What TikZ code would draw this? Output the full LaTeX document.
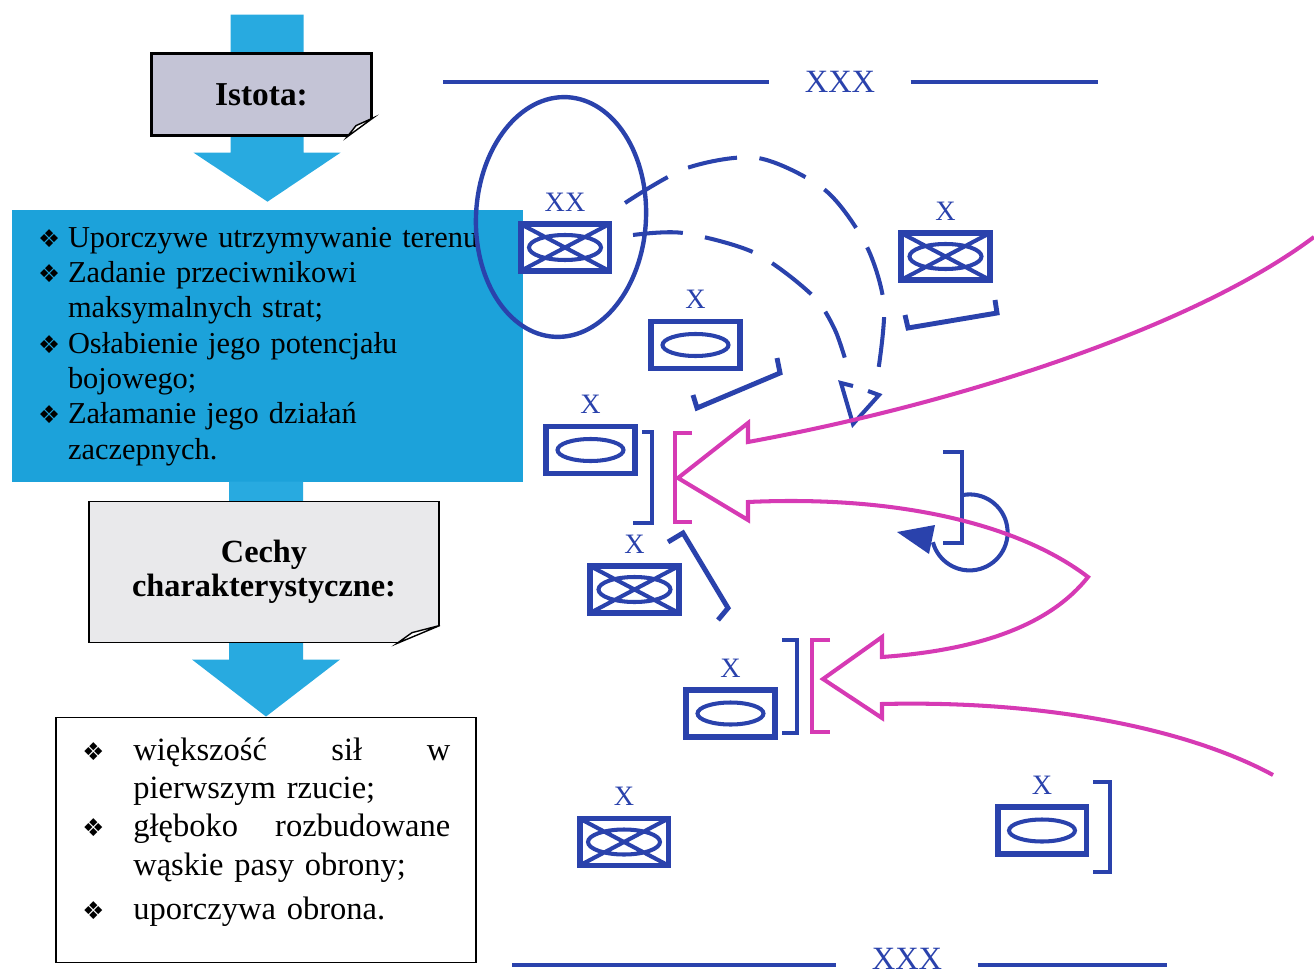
\documentclass[tikz,border=0pt]{standalone}
\usepackage{fontspec}
\setmainfont{Liberation Serif}
\newfontfamily\znakfont{DejaVu Sans}
\usetikzlibrary{calc}

\definecolor{niebieski}{RGB}{42,66,172}
\definecolor{rozowy}{RGB}{214,58,180}
\definecolor{celblue}{RGB}{28,162,218}
\definecolor{strzalka}{RGB}{40,170,224}
\definecolor{istotagray}{RGB}{196,196,214}
\definecolor{cechygray}{RGB}{233,233,235}

% punktor listy
\newcommand{\punkt}[1]{\makebox[#1][l]{\znakfont\fontsize{14}{14}\selectfont ❖}}
% zagiety rog kartki
\newcommand{\zagiecie}[3]{%
  \fill[white] ($(#1.south east)+(-#2,0)$) -- ($(#1.south east)+(-#2,4)$) -- ($(#1.south east)+(4,4)$)
    -- ($(#1.south east)+(4,-#3)$) -- ($(#1.south east)+(0,-#3)$) -- cycle;
  \draw[line width=0.8pt, fill=white] ($(#1.south east)+(-#2,0)$) -- ($(#1.south east)+(-0.65*#2,-0.6*#3)$)
    -- ($(#1.south east)+(0,-#3)$) -- cycle;}

\begin{document}
\begin{tikzpicture}[%
    x = 0.02cm, y = -0.02cm,
    tytul/.style = {draw, align=center},
    jednostka/.style = {draw=niebieski, line width=3.4pt, minimum width=1.78cm,
      minimum height=0.94cm, inner sep=0pt, outer sep=0pt},
    mot/.style = {jednostka, path picture={\draw[niebieski, line width=2.3pt]
      (path picture bounding box.center) ellipse [x radius=0.66cm, y radius=0.22cm];}},
    mech/.style = {jednostka, path picture={\draw[niebieski, line width=2.3pt]
      (path picture bounding box.south west) -- (path picture bounding box.north east)
      (path picture bounding box.north west) -- (path picture bounding box.south east)
      (path picture bounding box.center) ellipse [x radius=0.72cm, y radius=0.25cm];}},
    stopien/.style = {text=niebieski, inner sep=0pt, yshift=0.25cm, font=\fontsize{16}{16}\selectfont},
    xxx/.style = {text=niebieski, inner xsep=0.7cm, inner ysep=0pt, font=\fontsize{18.5}{19}\selectfont},
    granica/.style = {niebieski, line width=2.3pt},
    nawias/.style = {niebieski, line width=2.8pt},
    nawiasr/.style = {rozowy, line width=2.8pt},
    natarcie/.style = {rozowy, line width=2.3pt},
    manewr/.style = {niebieski, line width=2.3pt, dash pattern=on 1cm off 0.45cm}
  ]
  \clip (0,0) rectangle (1314,976);

  % lewa strona
  \node[draw, line width=1.1pt, minimum width=8.42cm, minimum height=4.9cm] (lista) at (266,840) {};
  \node[fill=celblue, minimum width=10.22cm, minimum height=5.44cm, text width=9.18cm,
    inner xsep=0.52cm, inner ysep=0.1cm, align=left,
    font=\fontsize{17.3}{20.1}\selectfont] (cel) at (267.5,346) {%
    \strut\punkt{0.6cm}Uporczywe utrzymywanie terenu\\
    \punkt{0.6cm}Zadanie przeciwnikowi\\
    \hspace*{0.6cm}maksymalnych strat;\\
    \punkt{0.6cm}Osłabienie jego potencjału\\
    \hspace*{0.6cm}bojowego;\\
    \punkt{0.6cm}Załamanie jego działań\\
    \hspace*{0.6cm}zaczepnych.\strut};
  \fill[strzalka] ($(cel.north)+(0,-8)$) -- ++(73,-49) -- ++(-37,0) -- ++(0,-138)
    -- ++(-73,0) -- ++(0,138) -- ++(-37,0) -- cycle;
  \fill[strzalka] (lista.north) -- ++(74,-57) -- ++(-37,0) -- ++(0,-178)
    -- ++(-74,0) -- ++(0,178) -- ++(-37,0) -- cycle;
  \node[tytul, fill=istotagray, line width=1.7pt, minimum width=4.4cm, minimum height=1.64cm,
    font=\bfseries\fontsize{19}{19.3}\selectfont] (istota) at (261.5,94.5) {Istota:};
  \zagiecie{istota}{26}{19}
  \node[tytul, fill=cechygray, line width=1.1pt, minimum width=7.0cm, minimum height=2.82cm,
    font=\bfseries\fontsize{18.4}{19.3}\selectfont] (cechy) at (264,572) {Cechy\\charakterystyczne:};
  \zagiecie{cechy}{43}{18}
  \node[anchor=north west, inner sep=0pt, text width=7.4cm, align=left,
    font=\fontsize{18.5}{21.8}\selectfont] (cechylista) at (82,733) {%
    \strut\punkt{1.02cm}\makebox[6.34cm][l]{większość\hfill sił\hfill w}\\
    \hspace*{1.02cm}pierwszym rzucie;\\
    \punkt{1.02cm}\makebox[6.34cm][l]{głęboko\hfill rozbudowane}\\
    \hspace*{1.02cm}wąskie pasy obrony;\\[0.12cm]
    \punkt{1.02cm}uporczywa obrona.};

  % granice
  \node[xxx] (xxxgora) at (840,82) {XXX};
  \draw[granica] (443,82) -- (xxxgora.west);
  \draw[granica] (xxxgora.east) -- (1098,82);
  \node[xxx] (xxxdol) at (907,959) {XXX};
  \draw[granica] (512,965) -- (xxxdol.west |- 0,965);
  \draw[granica] (xxxdol.east |- 0,965) -- (1167,965);

  % jednostki
  \draw[niebieski, line width=2.5pt, rotate around={-3:(561,217)}] (561,217) ellipse [x radius=1.7cm, y radius=2.4cm];
  \node[mech, label={[stopien]above:XX}] (dywizja) at (565,247.5) {};
  \node[mot, label={[stopien]above:X}] (bm1) at (695.5,345) {};
  \node[mech, label={[stopien]above:X}] (bz1) at (945.5,256.5) {};
  \node[mot, label={[stopien]above:X}] (bm2) at (590.5,450) {};
  \node[mech, label={[stopien]above:X}] (bz2) at (634.5,589.5) {};
  \node[mot, label={[stopien]above:X}] (bm3) at (730.5,713.5) {};
  \node[mech, label={[stopien]above:X}] (bz3) at (624,842) {};
  \node[mot, label={[stopien]above:X}] (bm4) at (1042,830.5) {};

  % nawiasy
  \draw[nawias] (693,395) -- (697,408) -- (780,373) -- (777,358);
  \draw[nawias] (905,315) -- (908,328) -- (997,313) -- (995,300);
  \draw[nawias] (642,432) -- (652,432) -- (652,523) -- (633,523);
  \draw[nawias] (668,542) -- (683,533) -- (728,608) -- (718,620);
  \draw[nawias] (782,640) -- (797,640) -- (797,733) -- (782,733);
  \draw[nawias] (943,452) -- (962,452) -- (962,543) -- (943,543);
  \draw[nawias] (1093,782) -- (1110,782) -- (1110,872) -- (1093,872);
  \draw[nawiasr] (692,433) -- (675,433) -- (675,522) -- (692,522);
  \draw[nawiasr] (830,640) -- (812,640) -- (812,732) -- (830,732);

  % manewr odwodu
  \draw[manewr] plot[smooth] coordinates {(625,203) (687,168) (758,158) (825,190) (866,245) (884,305) (878,372)};
  \draw[manewr] plot[smooth] coordinates {(633,235) (683,233) (755,253) (812,295) (835,330) (849,372)};
  \draw[niebieski, line width=2.3pt] (853,386) -- (841,383) -- (853,424) -- (879,395) -- (868,391);

  % obrona okrezna
  \draw[niebieski, line width=2.3pt] (963,495) arc[start angle=100, end angle=-165, radius=0.76cm];
  \fill[niebieski] (897,532) -- (935,525) -- (929,554) -- cycle;

  % natarcie przeciwnika
  \draw[natarcie] (1314,237) .. controls (1190,330) and (950,405) .. (748,442)
    -- (748,423) -- (678,478) -- (748,520) -- (748,502)
    .. controls (900,495) and (1020,525) .. (1088,577)
    .. controls (1050,625) and (980,650) .. (882,657)
    -- (882,637) -- (823,679) -- (882,718) -- (882,704)
    .. controls (1050,700) and (1190,730) .. (1273,775);
\end{tikzpicture}
\end{document}
